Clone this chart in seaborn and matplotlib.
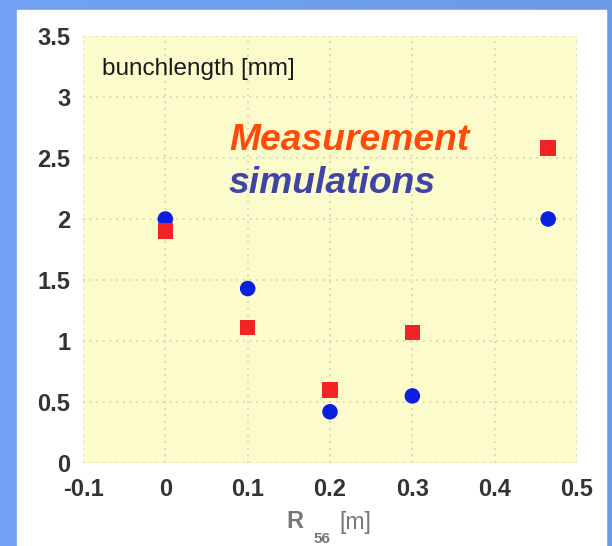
import numpy as np
import pandas as pd
import seaborn as sns
import matplotlib.pyplot as plt

# values
r56 = [0.0, 0.1, 0.2, 0.3, 0.465]
measured = [1.90, 1.11, 0.60, 1.07, 2.58]
simulated = [2.00, 1.43, 0.42, 0.55, 2.00]
x_ticks = [-0.1, 0, 0.1, 0.2, 0.3, 0.4, 0.5]
y_ticks = [0, 0.5, 1, 1.5, 2, 2.5, 3, 3.5]
x_ticklabels = ['-0.1', '0', '0.1', '0.2', '0.3', '0.4', '0.5']
y_ticklabels = ['0', '0.5', '1', '1.5', '2', '2.5', '3', '3.5']

df = pd.DataFrame({
    'R56': r56 * 2,
    'bunchlength': simulated + measured,
    'kind': ['simulations'] * len(r56) + ['Measurement'] * len(r56),
})

sns.set_style('white')
plt.rcParams['font.family'] = ['Liberation Sans', 'DejaVu Sans']

fig = plt.figure(figsize=(6.12, 5.46), dpi=100)

# blue slide background + white panel
bg = fig.add_axes([0, 0, 1, 1], zorder=-2)
grad = np.linspace(0, 1, 256).reshape(1, -1)
bg.imshow(grad, aspect='auto', cmap=plt.matplotlib.colors.LinearSegmentedColormap.from_list(
    'slide', ['#73a2f4', '#6c9ae6']), extent=[0, 1, 0, 1])
bg.add_patch(plt.Rectangle((17 / 612, 0), (606 - 17) / 612, (546 - 10) / 546,
                           color='white', transform=bg.transAxes))
bg.set_axis_off()

ax = fig.add_axes([83 / 612, 1 - 463 / 546, (577 - 83) / 612, (463 - 36) / 546])
ax.set_facecolor('#fcfbcb')

sns.scatterplot(data=df, x='R56', y='bunchlength', hue='kind', style='kind',
                palette={'simulations': '#0a1fe0', 'Measurement': '#f02424'},
                markers={'simulations': 'o', 'Measurement': 's'},
                s=125, edgecolor='none', legend=False, ax=ax, zorder=3)

ax.set_xlim(-0.1, 0.5)
ax.set_ylim(0, 3.5)
ax.set_xticks(x_ticks)
ax.set_xticklabels(x_ticklabels)
ax.set_yticks(y_ticks)
ax.set_yticklabels(y_ticklabels)
ax.tick_params(length=0, labelsize=17, colors='#333333')
ax.tick_params(axis='x', pad=11)
ax.tick_params(axis='y', pad=9)
for lab in ax.get_xticklabels() + ax.get_yticklabels():
    lab.set_fontweight('bold')
ax.grid(True, linestyle=(0, (1, 3)), color='#d2d0ae', linewidth=1.2)
for sp in ax.spines.values():
    sp.set_visible(False)
ax.set_xlabel('')
ax.set_ylabel('')

ax.text(-0.077, 3.23, 'bunchlength [mm]', fontsize=17.5, color='#1a1a1a', va='center')
ax.text(0.078, 2.64, 'Measurement', fontsize=26.8, color='#ff4a0a',
        fontweight='bold', style='italic', va='center')
ax.text(0.077, 2.29, 'simulations', fontsize=26.8, color='#3f44a6',
        fontweight='bold', style='italic', va='center')

# x axis label R_56 [m]
fig.text(295 / 612, 1 - 522 / 546, 'R', fontsize=17, fontweight='bold',
         color='#777777', ha='center', va='center')
fig.text(322 / 612, 1 - 539 / 546, '56', fontsize=11, fontweight='bold',
         color='#777777', ha='center', va='center')
fig.text(355 / 612, 1 - 522 / 546, '[m]', fontsize=16.5,
         color='#777777', ha='center', va='center')

fig.savefig('out.png', dpi=100)
